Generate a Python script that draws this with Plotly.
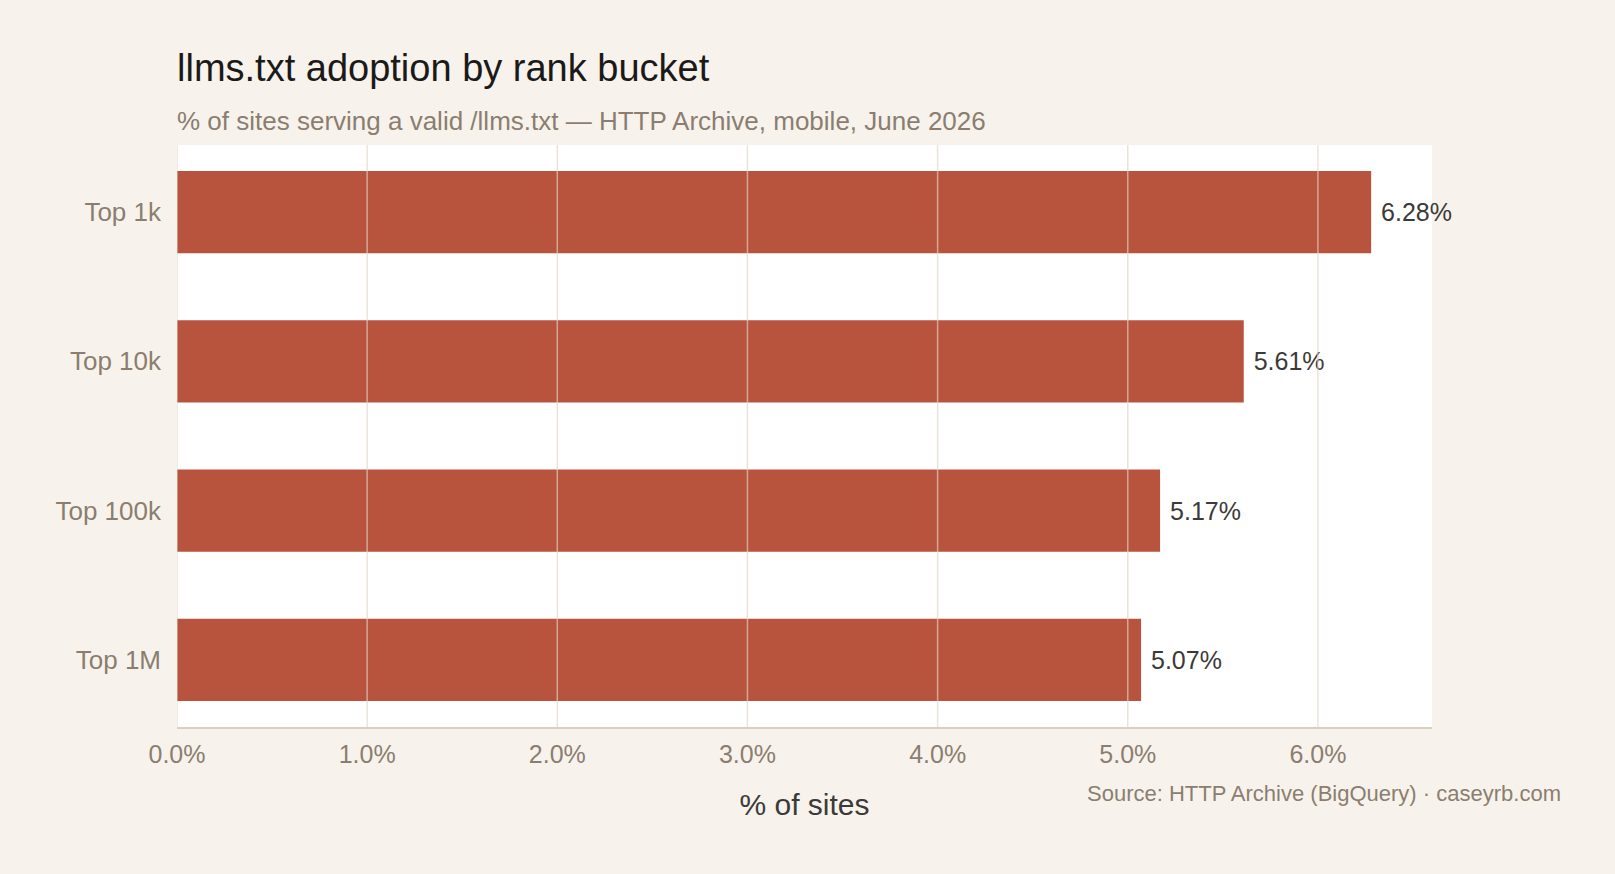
import plotly.graph_objects as go

# data
BUCKETS = ["Top 1k", "Top 10k", "Top 100k", "Top 1M"]
ADOPTION_PCT = [6.28, 5.61, 5.17, 5.07]
X_TICKS = [0, 1, 2, 3, 4, 5, 6]
X_TICK_LABELS = ["0.0%", "1.0%", "2.0%", "3.0%", "4.0%", "5.0%", "6.0%"]

TITLE = "llms.txt adoption by rank bucket"
SUBTITLE = "% of sites serving a valid /llms.txt — HTTP Archive, mobile, June 2026"
SOURCE = "Source: HTTP Archive (BigQuery) · caseyrb.com"

BG = "#f7f3ec"
BAR = "#b8543e"
MUTED = "#8b7e70"
DARK = "#3c3a38"
FONT = "Liberation Sans, Arial, Helvetica, sans-serif"

fig = go.Figure(go.Bar(
    y=BUCKETS, x=ADOPTION_PCT, orientation="h",
    marker=dict(color=BAR, line_width=0), width=0.55,
    texttemplate="\u00a0%{x:.2f}%", textposition="outside",
    textfont=dict(size=25, color=DARK, family=FONT),
    cliponaxis=False, hoverinfo="skip",
))

# gridlines sit on top of the bars in the reference, so draw them as shapes
for t in X_TICKS:
    fig.add_shape(type="line", xref="x", yref="paper", x0=t, x1=t, y0=0, y1=1,
                  line=dict(color="rgba(222,212,196,0.65)", width=1.5), layer="above")

fig.update_layout(
    width=1615, height=874,
    margin=dict(l=177, r=183, t=145, b=147),
    paper_bgcolor=BG, plot_bgcolor="white",
    font=dict(family=FONT, color=MUTED),
    showlegend=False,
    bargap=0.45,
)

fig.update_xaxes(
    range=[0, 6.6], tickmode="array", tickvals=X_TICKS, ticktext=X_TICK_LABELS,
    showgrid=False, zeroline=False,
    showline=True, linecolor="#d8cfbf", linewidth=2,
    tickfont=dict(size=25, color=MUTED), ticks="", ticklabelstandoff=4,
    title=dict(text="% of sites", font=dict(size=30, color=DARK), standoff=27),
)
fig.update_yaxes(
    range=[3.45, -0.45], showgrid=False, zeroline=False, showline=False,
    tickfont=dict(size=26, color=MUTED), ticks="", ticklabelstandoff=15,
)

fig.add_annotation(text=TITLE, xref="paper", yref="paper", x=0, y=(727 - 68) / 582,
                   xanchor="left", yanchor="middle", showarrow=False, xshift=-2,
                   font=dict(size=38, color="#1c1a19"))
fig.add_annotation(text=SUBTITLE, xref="paper", yref="paper", x=0, y=(727 - 121) / 582,
                   xanchor="left", yanchor="middle", showarrow=False, xshift=-2,
                   font=dict(size=26, color=MUTED))
fig.add_annotation(text=SOURCE, xref="paper", yref="paper", x=(1563 - 177) / 1255,
                   y=(727 - 793) / 582, xanchor="right", yanchor="middle",
                   showarrow=False, font=dict(size=22, color=MUTED))

# page fills the window with no default body margin, no modebar
fig.write_html("out.html", config={"displayModeBar": False}, post_script=(
    "document.body.style.margin='0';"
    "document.body.style.overflow='hidden';"
    f"document.body.style.background='{BG}';"
))
